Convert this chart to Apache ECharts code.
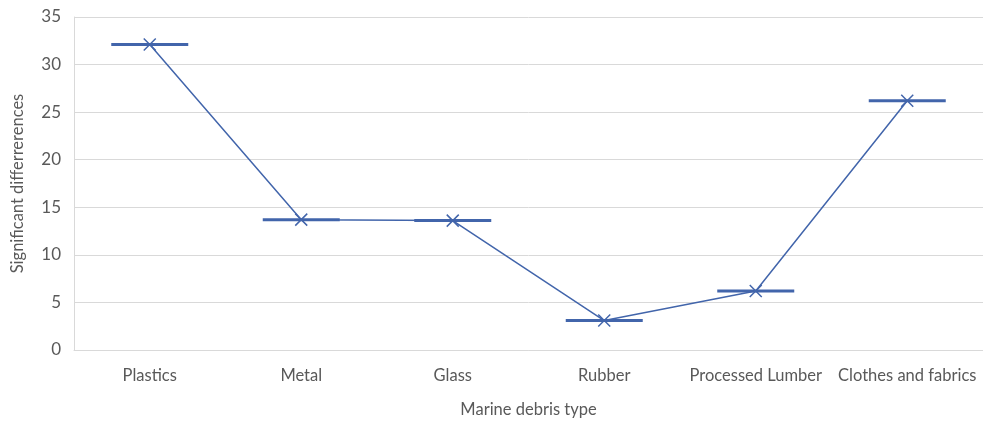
<!DOCTYPE html>
<html>
<head>
<meta charset="utf-8">
<script src="https://cdn.jsdelivr.net/npm/echarts@6/dist/echarts.min.js"></script>
<style>
  html, body { margin: 0; padding: 0; background: #fff; }
  #chart { width: 983px; height: 423px; }
</style>
</head>
<body>
<div id="chart"></div>
<script>
// Debris categories and their significant-difference counts
const categories = ['Plastics', 'Metal', 'Glass', 'Rubber', 'Processed Lumber', 'Clothes and fabrics'];
const values = [32.1, 13.7, 13.6, 3.1, 6.2, 26.2];
const yTicks = { min: 0, max: 35, interval: 5 };

const blue = '#4265AB';
const textColor = '#595959';
const font = 'Lato, "Open Sans", sans-serif';

const chart = echarts.init(document.getElementById('chart'), null, { renderer: 'canvas' });
chart.setOption({
  animation: false,
  grid: { left: 74, right: 0, top: 17, bottom: 72 },
  xAxis: {
    type: 'category',
    data: categories,
    boundaryGap: true,
    name: 'Marine debris type',
    nameLocation: 'middle',
    nameGap: 51,
    nameTextStyle: { color: textColor, fontSize: 16.5, fontFamily: font },
    axisLine: { show: true, lineStyle: { color: '#D9D9D9', width: 1 } },
    axisTick: { show: false },
    axisLabel: { color: textColor, fontSize: 16.5, fontFamily: font, margin: 17, interval: 0 },
    splitLine: { show: false }
  },
  yAxis: {
    type: 'value',
    min: yTicks.min,
    max: yTicks.max,
    interval: yTicks.interval,
    name: 'Significant differrerences',
    nameLocation: 'middle',
    nameGap: 48,
    nameTextStyle: { color: textColor, fontSize: 16.5, fontFamily: font },
    axisLine: { show: true, lineStyle: { color: '#D9D9D9', width: 1 } },
    axisTick: { show: false },
    axisLabel: { color: textColor, fontSize: 17, fontFamily: font, margin: 13 },
    splitLine: { show: true, lineStyle: { color: '#D9D9D9', width: 1 } }
  },
  series: [
    {
      // horizontal bar at each value
      type: 'scatter',
      data: values,
      symbol: 'rect',
      symbolSize: [77, 3],
      itemStyle: { color: blue, opacity: 1 },
      z: 2
    },
    {
      type: 'line',
      data: values,
      symbol: 'path://M0,0L10,10M10,0L0,10',
      symbolSize: 12,
      showSymbol: true,
      lineStyle: { color: blue, width: 1.5 },
      itemStyle: { color: 'rgba(0,0,0,0)', borderColor: blue, borderWidth: 1.5 },
      z: 3
    }
  ]
});
</script>
</body>
</html>
